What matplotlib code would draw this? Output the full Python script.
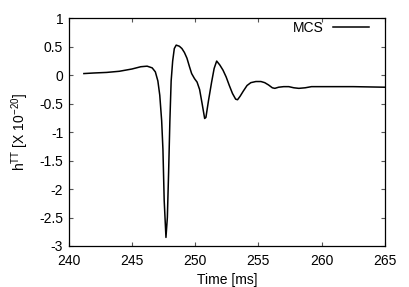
import matplotlib
matplotlib.use("Agg")
import matplotlib.pyplot as plt

plt.rcParams['font.family'] = ['Liberation Sans', 'DejaVu Sans']
plt.rcParams['mathtext.fontset'] = 'custom'
plt.rcParams['mathtext.rm'] = 'Liberation Sans'

time_ms = [241.2, 242.0, 243.0, 244.0, 245.0, 245.7, 246.2, 246.6, 246.85, 247.05,
           247.2, 247.35, 247.45, 247.55, 247.69, 247.8, 247.9, 248.0, 248.1, 248.22,
           248.35, 248.5, 248.75, 248.95, 249.15, 249.35, 249.55, 249.72, 249.95, 250.15,
           250.35, 250.55, 250.75, 250.85, 251.05, 251.3, 251.5, 251.7, 251.95, 252.2,
           252.45, 252.7, 252.95, 253.2, 253.35, 253.55, 253.8, 254.1, 254.4, 254.8,
           255.2, 255.5, 255.8, 256.1, 256.3, 256.6, 257.0, 257.4, 257.8, 258.2,
           258.7, 259.2, 260.0, 262.5, 265.0]
h_tt = [0.03, 0.04, 0.05, 0.07, 0.11, 0.15, 0.16, 0.13, 0.06, -0.10,
        -0.35, -0.80, -1.3, -2.2, -2.85, -2.5, -1.7, -0.8, -0.1, 0.25,
        0.47, 0.53, 0.51, 0.47, 0.40, 0.30, 0.15, 0.03, -0.06, -0.12,
        -0.25, -0.5, -0.76, -0.74, -0.45, -0.12, 0.12, 0.25, 0.18, 0.09,
        -0.03, -0.18, -0.32, -0.42, -0.43, -0.37, -0.28, -0.18, -0.13, -0.11,
        -0.11, -0.13, -0.17, -0.22, -0.23, -0.21, -0.20, -0.20, -0.22, -0.23,
        -0.22, -0.20, -0.20, -0.20, -0.21]

x_ticks = [240, 245, 250, 255, 260, 265]
y_ticks = [-3, -2.5, -2, -1.5, -1, -0.5, 0, 0.5, 1]
y_tick_labels = ['-3', '-2.5', '-2', '-1.5', '-1', '-0.5', '0', '0.5', '1']

fig = plt.figure(figsize=(4.09, 2.87), dpi=100)
ax = fig.add_axes([0.168, 0.143, 0.773, 0.793])
ax.plot(time_ms, h_tt, color='black', linewidth=1.1, label='MCS')
ax.set_xlim(240, 265)
ax.set_ylim(-3, 1)
ax.set_xticks(x_ticks)
ax.set_xticklabels([str(t) for t in x_ticks])
ax.set_yticks(y_ticks)
ax.set_yticklabels(y_tick_labels)
ax.tick_params(direction='in', length=3, width=0.8, color='#555555',
               top=True, right=True, labelsize=10)
ax.tick_params(axis='x', pad=6)
ax.tick_params(axis='y', pad=4)
for s in ax.spines.values():
    s.set_linewidth(0.9)
ax.set_xlabel('Time [ms]', fontsize=10, labelpad=3.5)
ax.set_ylabel(r'h$^{\mathrm{TT}}$ [X 10$^{-20}$]', fontsize=10, labelpad=6)
leg = ax.legend(loc='upper right', bbox_to_anchor=(0.949, 0.99), frameon=False,
                fontsize=10, markerfirst=False, handlelength=2.6,
                handletextpad=0.65, borderaxespad=0, borderpad=0)
fig.savefig('out.png', dpi=100)
